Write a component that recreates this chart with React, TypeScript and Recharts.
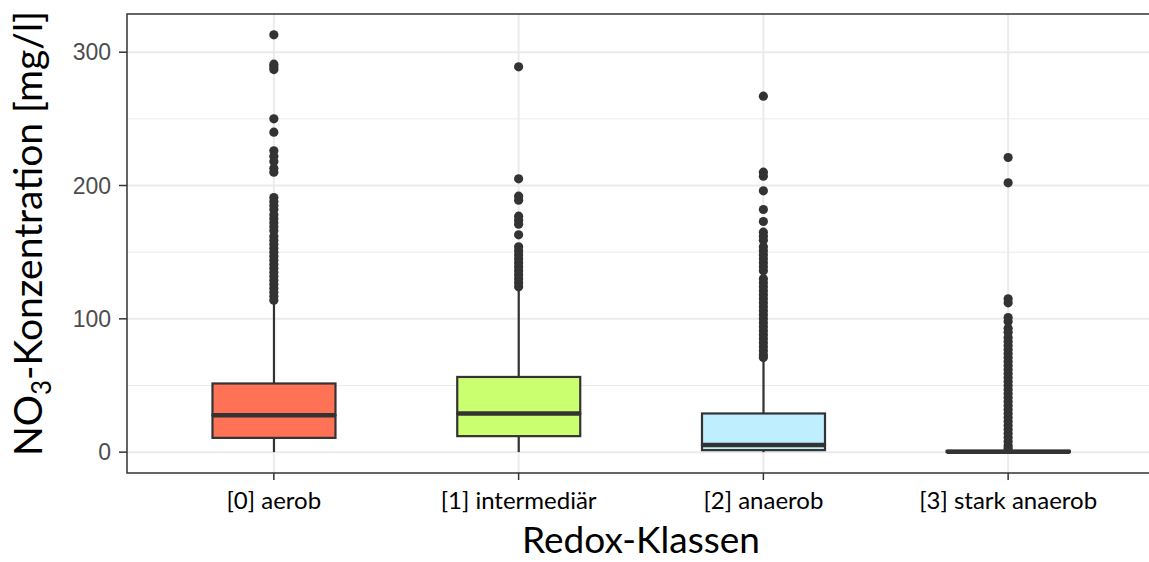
import React from 'react';
import { ComposedChart, Bar, Scatter, XAxis, YAxis, CartesianGrid, ReferenceArea, Label } from 'recharts';

const CATEGORIES = ['[0] aerob', '[1] intermediär', '[2] anaerob', '[3] stark anaerob'];
const BOX_COLORS = ['#FF7256', '#CAFF70', '#BFEFFF', '#FFE4B5'];

// box statistics per class (mg/l)
const WHISKER_LOW = [0, 0, 0, 0];
const Q1 = [10.7, 12, 1.5, 0];
const MEDIAN = [27.7, 29, 5.4, 0.3];
const Q3 = [51.5, 56.4, 29, 1.0];
const WHISKER_HIGH = [112, 122, 69, 2.5];

const OUTLIERS_AEROB = [
  313, 291, 289, 287, 250, 240, 226, 222, 218, 213, 210, 191, 188, 185, 182, 178, 175, 172, 169, 166,
  162, 159, 156, 153, 150, 147, 144, 141, 138, 135, 132, 129, 126, 123, 120, 117, 114,
];
const OUTLIERS_INTERMEDIAER = [
  289, 205, 192, 189, 177, 174, 171, 163, 154, 151, 148, 145, 142, 139, 136, 133, 130, 127, 124,
];
const OUTLIERS_ANAEROB = [
  267, 210, 207, 196, 182, 173, 165, 162, 159, 154, 151, 148, 145, 142, 139, 136, 130, 127, 124, 121,
  118, 115, 112, 109, 106, 103, 100, 97, 94, 91, 88, 85, 82, 79, 76, 73, 71,
];
const OUTLIERS_STARK = [
  221, 202, 115, 112, 101, 98, 93, 90, 86, 83, 80, 77, 74, 71, 68, 65, 62, 59, 56, 53, 50, 47, 44, 41,
  38, 35, 32, 29, 26, 23, 20, 17, 14, 11, 8, 5, 3,
];

const Y_TICKS = [0, 100, 200, 300];
const Y_MINOR = [50, 150, 250];
const Y_DOMAIN: [number, number] = [-15.65, 328.65];
const X_TICKS = [1, 2, 3, 4];
const X_DOMAIN: [number, number] = [0.4, 4.6];

const OUTLINE = '#333333';
const TITLE_FONT = 'Lato, "Noto Sans", sans-serif';

const boxRows = CATEGORIES.map((name, i) => ({
  x: i + 1,
  name,
  color: BOX_COLORS[i],
  base: WHISKER_LOW[i],
  lowWhisker: Q1[i] - WHISKER_LOW[i],
  lowBox: MEDIAN[i] - Q1[i],
  highBox: Q3[i] - MEDIAN[i],
  highWhisker: WHISKER_HIGH[i] - Q3[i],
}));

const outlierPoints = [OUTLIERS_AEROB, OUTLIERS_INTERMEDIAER, OUTLIERS_ANAEROB, OUTLIERS_STARK].flatMap(
  (vals, i) => vals.map((v) => ({ x: i + 1, y: v }))
);

const box = (p: any) => {
  const top = Math.min(p.y, p.y + p.height);
  return { top, h: Math.abs(p.height), cx: p.x + p.width / 2 };
};

const WhiskerShape = (p: any) => {
  if (p.x == null || p.y == null) return <g />;
  const { top, h, cx } = box(p);
  return <line x1={cx} x2={cx} y1={top} y2={top + h} stroke={OUTLINE} strokeWidth={2.2} />;
};

const LowBoxShape = (p: any) => {
  if (p.x == null || p.y == null) return <g />;
  const { top, h } = box(p);
  return <rect x={p.x} y={top} width={p.width} height={h} fill={p.payload.color} stroke={OUTLINE} strokeWidth={2.2} />;
};

const HighBoxShape = (p: any) => {
  if (p.x == null || p.y == null) return <g />;
  const { top, h } = box(p);
  return (
    <g>
      <rect x={p.x} y={top} width={p.width} height={h} fill={p.payload.color} stroke={OUTLINE} strokeWidth={2.2} />
      <line x1={p.x} x2={p.x + p.width} y1={top + h} y2={top + h} stroke={OUTLINE} strokeWidth={4.5} />
    </g>
  );
};

const OutlierDot = (p: any) => <circle cx={p.cx} cy={p.cy} r={4.6} fill={OUTLINE} />;

const YTitle = (props: any) => {
  const vb = props.viewBox;
  const cy = vb.y + vb.height / 2 - 10;
  const bx = 42;
  return (
    <text x={bx} y={cy} transform={`rotate(-90 ${bx} ${cy})`} textAnchor="middle" fontFamily={TITLE_FONT} fontSize={39} fill="#000">
      NO<tspan fontSize={26} dy={9}>3</tspan>
      <tspan dy={-9}>-Konzentration [mg/l]</tspan>
    </text>
  );
};

const XTitle = (props: any) => {
  const vb = props.viewBox;
  return (
    <text x={vb.x + vb.width / 2} y={553} textAnchor="middle" fontFamily={TITLE_FONT} fontSize={37} fill="#000">
      Redox-Klassen
    </text>
  );
};

export default function App() {
  return (
    <div style={{ position: 'fixed', left: 0, top: 0, width: 1149, height: 562, overflow: 'hidden', background: '#fff' }}>
      <ComposedChart width={1165} height={562} data={boxRows} margin={{ top: 14, right: 10, left: 0, bottom: 0 }}>
        <CartesianGrid horizontalValues={Y_MINOR} vertical={false} stroke="#EBEBEB" strokeWidth={1} />
        <CartesianGrid horizontalValues={Y_TICKS} verticalValues={X_TICKS} stroke="#EBEBEB" strokeWidth={2} />
        <XAxis
          type="number"
          dataKey="x"
          domain={X_DOMAIN}
          ticks={X_TICKS}
          interval={0}
          allowDataOverflow
          height={89}
          axisLine={false}
          tickSize={7}
          tickMargin={12}
          tickLine={{ stroke: OUTLINE, strokeWidth: 1.5 }}
          tickFormatter={(v: number) => CATEGORIES[v - 1]}
          tick={{ fill: '#000', fontSize: 24, fontFamily: TITLE_FONT }}
        >
          <Label content={XTitle} />
        </XAxis>
        <YAxis
          type="number"
          domain={Y_DOMAIN}
          ticks={Y_TICKS}
          allowDataOverflow
          width={127}
          axisLine={false}
          tickSize={8}
          tickMargin={8}
          tickLine={{ stroke: OUTLINE, strokeWidth: 1.5 }}
          tick={{ fill: '#4D4D4D', fontSize: 23, fontFamily: '"Liberation Sans", Arial, sans-serif' }}
        >
          <Label content={YTitle} />
        </YAxis>
        <Bar dataKey="base" stackId="box" barSize={123} fill="none" isAnimationActive={false} />
        <Bar dataKey="lowWhisker" stackId="box" barSize={123} shape={WhiskerShape} isAnimationActive={false} />
        <Bar dataKey="lowBox" stackId="box" barSize={123} shape={LowBoxShape} isAnimationActive={false} />
        <Bar dataKey="highBox" stackId="box" barSize={123} shape={HighBoxShape} isAnimationActive={false} />
        <Bar dataKey="highWhisker" stackId="box" barSize={123} shape={WhiskerShape} isAnimationActive={false} />
        <Scatter data={outlierPoints} dataKey="y" shape={OutlierDot} isAnimationActive={false} />
        <ReferenceArea
          x1={X_DOMAIN[0]}
          x2={X_DOMAIN[1]}
          y1={Y_DOMAIN[0]}
          y2={Y_DOMAIN[1]}
          fill="none"
          stroke={OUTLINE}
          strokeWidth={1.5}
          ifOverflow="visible"
        />
      </ComposedChart>
    </div>
  );
}
